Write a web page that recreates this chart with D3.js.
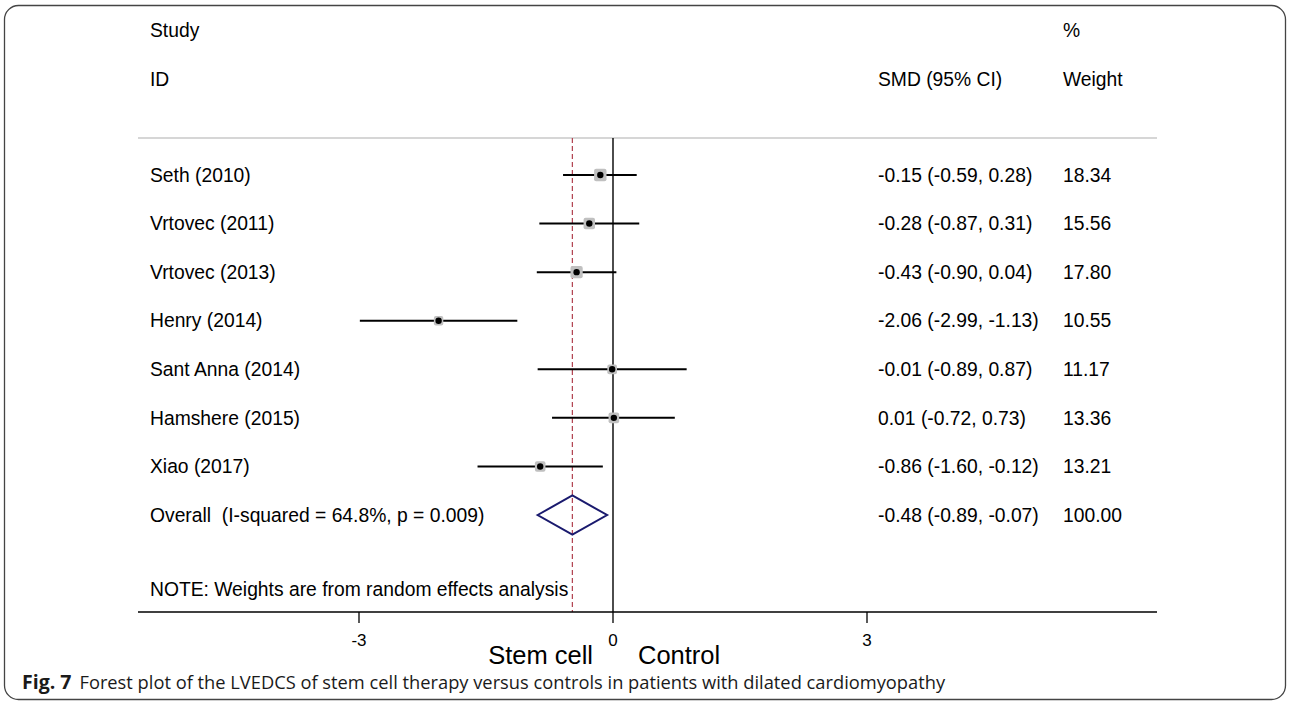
<!DOCTYPE html>
<head>
<meta charset="utf-8">
<script src="https://d3js.org/d3.v7.min.js"></script>
<style>
  body { margin: 0; background: #fff; }
  text { white-space: pre; }
</style>
</head>
<body>
<svg width="1290" height="708" font-family="'Liberation Sans', Arial, sans-serif"></svg>
<script>

// study rows
let studies = ["Seth (2010)", "Vrtovec (2011)", "Vrtovec (2013)", "Henry (2014)",
               "Sant Anna (2014)", "Hamshere (2015)", "Xiao (2017)"];
let smd    = [-0.15, -0.28, -0.43, -2.06, -0.01, 0.01, -0.86];
let lower  = [-0.59, -0.87, -0.90, -2.99, -0.89, -0.72, -1.60];
let upper  = [0.28, 0.31, 0.04, -1.13, 0.87, 0.73, -0.12];
let weight = [18.34, 15.56, 17.80, 10.55, 11.17, 13.36, 13.21];

// pooled estimate
let overallLabel = "Overall  (I-squared = 64.8%, p = 0.009)";
let overall = { smd: -0.48, lo: -0.89, hi: -0.07, w: 100.00 };

let xTicks = [-3, 0, 3];

let svg = d3.select("svg");

// frame
svg.append("rect")
    .attr("x", 4.5).attr("y", 5.5)
    .attr("width", 1281).attr("height", 694)
    .attr("rx", 14)
    .attr("fill", "none")
    .attr("stroke", "#444")
    .attr("stroke-width", 1.3);

let x = d3.scaleLinear().domain([-3, 3]).range([359, 867]);
let y = d3.scaleLinear().domain([0, 7]).range([175, 515]);

let topY = 138, axisY = 612;
let fs = 19.3;
function fmt(v) { return v.toFixed(2); }

// headers
let hdr = svg.append("g").attr("font-size", fs).attr("fill", "#000");
hdr.append("text").attr("x", 150).attr("y", 37).text("Study");
hdr.append("text").attr("x", 150).attr("y", 86).text("ID");
hdr.append("text").attr("x", 1063).attr("y", 37).text("%");
hdr.append("text").attr("x", 878).attr("y", 86).text("SMD (95% CI)");
hdr.append("text").attr("x", 1063).attr("y", 86).text("Weight");

svg.append("line")
    .attr("x1", 138).attr("x2", 1157)
    .attr("y1", topY).attr("y2", topY)
    .attr("stroke", "#c8c8c8").attr("stroke-width", 1.3);

// null line and pooled estimate line
svg.append("line")
    .attr("x1", x(0)).attr("x2", x(0))
    .attr("y1", topY).attr("y2", axisY)
    .attr("stroke", "#000").attr("stroke-width", 1.4);

svg.append("line")
    .attr("x1", x(overall.smd)).attr("x2", x(overall.smd))
    .attr("y1", topY).attr("y2", axisY)
    .attr("stroke", "#b0404e").attr("stroke-width", 1.2)
    .attr("stroke-dasharray", "5,3");

// rows
let rows = svg.append("g")
  .selectAll("g")
  .data(studies)
  .enter().append("g")
    .attr("transform", function(d, i) { return "translate(0," + y(i) + ")"; });

rows.append("line")
    .attr("x1", function(d, i) { return x(lower[i]); })
    .attr("x2", function(d, i) { return x(upper[i]); })
    .attr("stroke", "#000")
    .attr("stroke-width", 2);

rows.append("rect")
    .attr("x", function(d, i) { return x(smd[i]) - 1.45 * Math.sqrt(weight[i]); })
    .attr("y", function(d, i) { return -1.45 * Math.sqrt(weight[i]); })
    .attr("width", function(d, i) { return 2.9 * Math.sqrt(weight[i]); })
    .attr("height", function(d, i) { return 2.9 * Math.sqrt(weight[i]); })
    .attr("rx", 2)
    .attr("fill", "#c0c0c0");

rows.append("circle")
    .attr("cx", function(d, i) { return x(smd[i]); })
    .attr("r", 3.2)
    .attr("fill", "#000");

rows.append("text")
    .attr("x", 150).attr("dy", "0.35em")
    .attr("font-size", fs)
    .text(function(d) { return d; });

rows.append("text")
    .attr("x", 878).attr("dy", "0.35em")
    .attr("font-size", fs)
    .text(function(d, i) { return fmt(smd[i]) + " (" + fmt(lower[i]) + ", " + fmt(upper[i]) + ")"; });

rows.append("text")
    .attr("x", 1063).attr("dy", "0.35em")
    .attr("font-size", fs)
    .text(function(d, i) { return fmt(weight[i]); });

// overall row
let oy = y(studies.length);
svg.append("path")
    .attr("d", "M" + x(overall.lo) + "," + oy +
               "L" + x(overall.smd) + "," + (oy - 19.5) +
               "L" + x(overall.hi) + "," + oy +
               "L" + x(overall.smd) + "," + (oy + 19.5) + "Z")
    .attr("fill", "none")
    .attr("stroke", "#1a1a6e")
    .attr("stroke-width", 2);

svg.append("text").attr("x", 150).attr("y", oy).attr("dy", "0.35em")
    .attr("font-size", fs).text(overallLabel);
svg.append("text").attr("x", 878).attr("y", oy).attr("dy", "0.35em")
    .attr("font-size", fs)
    .text(fmt(overall.smd) + " (" + fmt(overall.lo) + ", " + fmt(overall.hi) + ")");
svg.append("text").attr("x", 1063).attr("y", oy).attr("dy", "0.35em")
    .attr("font-size", fs).text(fmt(overall.w));

svg.append("text").attr("x", 150).attr("y", 589).attr("dy", "0.35em")
    .attr("font-size", fs).text("NOTE: Weights are from random effects analysis");

// x axis
svg.append("line")
    .attr("x1", 138).attr("x2", 1157)
    .attr("y1", axisY).attr("y2", axisY)
    .attr("stroke", "#000").attr("stroke-width", 1.3);

let tick = svg.append("g")
  .selectAll("g")
  .data(xTicks)
  .enter().append("g")
    .attr("transform", function(d) { return "translate(" + x(d) + "," + axisY + ")"; });

tick.append("line").attr("y2", 11).attr("stroke", "#000").attr("stroke-width", 1.3);
tick.append("text")
    .attr("y", 34)
    .attr("text-anchor", "middle")
    .attr("font-size", 17)
    .text(function(d) { return d; });

svg.append("text")
    .attr("x", x(0) - 20).attr("y", 664)
    .attr("text-anchor", "end")
    .attr("font-size", 25.5)
    .text("Stem cell");
svg.append("text")
    .attr("x", x(0) + 25).attr("y", 664)
    .attr("font-size", 25.5)
    .text("Control");

// caption
let cap = svg.append("text")
    .attr("x", 22).attr("y", 689)
    .attr("font-family", "'Open Sans', sans-serif")
    .attr("font-size", 18.3)
    .attr("fill", "#1a1a1a");
cap.append("tspan").attr("font-weight", "bold").attr("font-size", 19.5).text("Fig. 7");
cap.append("tspan").attr("dx", 8)
    .text("Forest plot of the LVEDCS of stem cell therapy versus controls in patients with dilated cardiomyopathy");

</script>
</body>
